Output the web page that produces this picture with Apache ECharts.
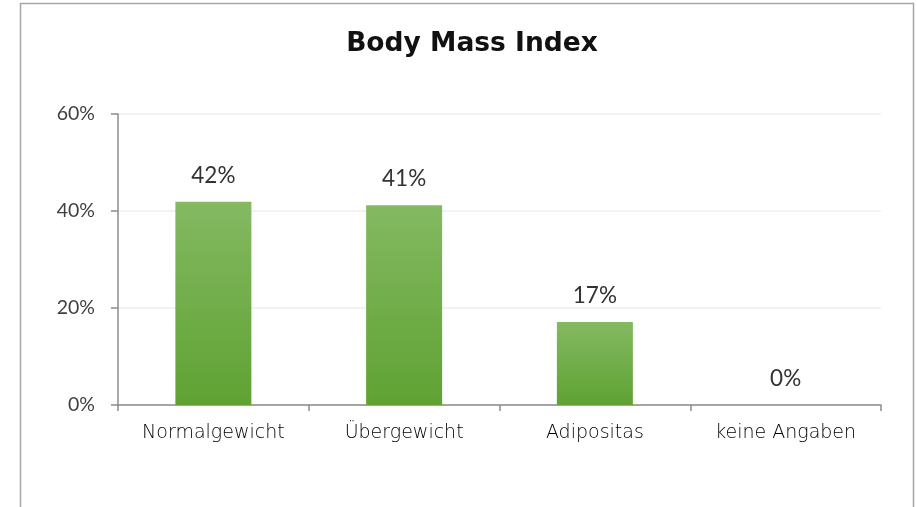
<!DOCTYPE html>
<html><head><meta charset="utf-8">
<script src="https://cdn.jsdelivr.net/npm/echarts@6/dist/echarts.min.js"></script>
<style>html,body{margin:0;padding:0;background:#fff}#c{width:917px;height:507px}</style>
</head><body><div id="c"></div>
<script>
var categories = ["Normalgewicht", "Übergewicht", "Adipositas", "keine Angaben"];
var values = [41.9, 41.2, 17.1, 0];
var labels = ["42%", "41%", "17%", "0%"];
var yTicks = [0, 20, 40, 60];

var chart = echarts.init(document.getElementById('c'), null, {renderer: 'canvas'});
var wide = '"DejaVu Sans", "Noto Sans", sans-serif';
var num = 'Lato, "Noto Sans", sans-serif';
chart.setOption({
  animation: false,
  title: {
    text: 'Body Mass Index', left: 467, top: 26, textAlign: 'center',
    textStyle: {fontFamily: wide, fontSize: 26.5, fontWeight: 'bold', color: '#111'}
  },
  graphic: [{
    type: 'rect', shape: {x: 20.5, y: 3.5, width: 893, height: 560},
    style: {fill: null, stroke: '#a6a6a6', lineWidth: 1.5}, silent: true
  }],
  grid: {left: 118, right: 36, top: 114, bottom: 102},
  xAxis: {
    type: 'category', data: categories,
    axisLine: {lineStyle: {color: '#8c8c8c', width: 1.5}},
    axisTick: {show: true, alignWithLabel: false, length: 6, lineStyle: {color: '#8c8c8c', width: 1.5}},
    axisLabel: {fontFamily: wide, fontSize: 19, fontWeight: 200, color: '#000', margin: 19}
  },
  yAxis: {
    type: 'value', min: 0, max: 60, interval: 20,
    axisLine: {show: true, lineStyle: {color: '#8c8c8c', width: 1.5}},
    axisTick: {show: true, length: 7, lineStyle: {color: '#8c8c8c', width: 1.5}},
    splitLine: {show: true, lineStyle: {color: '#eeeeee', width: 1.5}},
    axisLabel: {fontFamily: num, fontSize: 19.5, color: '#404040', margin: 23,
      formatter: function (v) { return v + '%'; }}
  },
  series: [{
    type: 'bar', data: values, barWidth: 76,
    itemStyle: {color: new echarts.graphic.LinearGradient(0, 0, 0, 1, [
      {offset: 0, color: '#84b962'}, {offset: 1, color: '#5fa232'}])},
    label: {show: true, position: 'top', distance: 15, fontFamily: num, fontSize: 22.5, color: '#333',
      formatter: function (p) { return labels[p.dataIndex]; }}
  }]
});
</script></body></html>
